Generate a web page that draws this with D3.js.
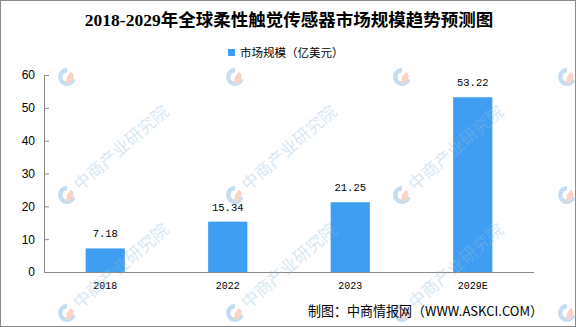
<!DOCTYPE html>
<html><head><meta charset="utf-8">
<script src="https://cdn.jsdelivr.net/npm/d3@7"></script>
<style>html,body{margin:0;padding:0;background:#fff;}svg{display:block;}</style>
</head><body>
<script>
const categories = ["2018", "2022", "2023", "2029E"];
const values = [7.18, 15.34, 21.25, 53.22];
const yTicks = [0, 10, 20, 30, 40, 50, 60];
const title = "2018-2029年全球柔性触觉传感器市场规模趋势预测图";
const seriesName = "市场规模（亿美元）";
const credit = "制图：中商情报网（WWW.ASKCI.COM）";
const watermarkText = "中商产业研究院";

const W = 576, H = 327;
const svg = d3.select("body").append("svg").attr("width", W).attr("height", H);
svg.append("rect").attr("x", 0.5).attr("y", 0.5).attr("width", W - 1).attr("height", H - 1)
  .attr("fill", "#fff").attr("stroke", "#8a8a8a").attr("stroke-width", 1);

const x = d3.scaleBand().domain(categories).range([44, 534]).paddingInner(0.68).paddingOuter(0.34);
const y = d3.scaleLinear().domain([0, 60]).range([272, 75]);

// watermark logos (behind)
const wmLogos = svg.append("g").attr("pointer-events", "none");
const cols = [67, 235, 402, 567];
const rows = [77, 195, 313];
rows.forEach(ry => cols.forEach(cx => {
  const g = wmLogos.append("g").attr("transform", `translate(${cx},${ry})`);
  g.append("path").attr("d", d3.arc().innerRadius(4.5).outerRadius(9)({startAngle: Math.PI * 0.6, endAngle: Math.PI * 2.0})).attr("fill", "#c4ddf0");
  g.append("path").attr("d", d3.arc().innerRadius(0).outerRadius(6.5)({startAngle: Math.PI * 0.2, endAngle: Math.PI * 1.05})).attr("fill", "#f9d3c5");
}));

// title
svg.append("text").attr("x", 289).attr("y", 26).attr("text-anchor", "middle")
  .style("font-family", "'Liberation Serif','Noto Sans CJK SC',serif").style("font-weight", "bold")
  .style("font-size", "17.5px").attr("fill", "#000").text(title);

// legend
svg.append("rect").attr("x", 228).attr("y", 49).attr("width", 7).attr("height", 7).attr("fill", "#409ef2");
svg.append("text").attr("x", 240).attr("y", 57).style("font-family", "'Noto Sans CJK SC',sans-serif")
  .style("font-size", "11.5px").attr("fill", "#000").text(seriesName);

// y axis
const yAxis = d3.axisLeft(y).tickValues(yTicks).tickSizeInner(-5).tickSizeOuter(0).tickPadding(9);
const gy = svg.append("g").attr("transform", "translate(44,0)").call(yAxis);
gy.select(".domain").attr("stroke", "#8a8a8a");
gy.selectAll(".tick line").attr("stroke", "#8a8a8a");
gy.selectAll(".tick text").style("font-family", "'Liberation Sans',Arial,sans-serif").style("font-size", "12px").attr("fill", "#000");

// x axis
const xAxis = d3.axisBottom(x).tickSize(0).tickPadding(10);
const gx = svg.append("g").attr("transform", "translate(0,272)").call(xAxis);
gx.select(".domain").attr("stroke", "#8a8a8a").attr("d", "M44,0.5H534");
gx.selectAll(".tick text").style("font-family", "'Liberation Mono',monospace").style("font-size", "10px").attr("fill", "#000");

// bars
const data = categories.map((c, i) => ({c, v: values[i]}));
svg.append("g").selectAll("rect").data(data).join("rect")
  .attr("x", d => x(d.c)).attr("width", x.bandwidth())
  .attr("y", d => y(d.v)).attr("height", d => y(0) - y(d.v))
  .attr("fill", "#409ef2");

svg.append("g").selectAll("text").data(data).join("text")
  .attr("x", d => x(d.c) + x.bandwidth() / 2).attr("y", d => y(d.v) - 11)
  .attr("text-anchor", "middle").style("font-family", "'Liberation Mono',monospace")
  .style("font-size", "10.5px").attr("fill", "#000").text(d => d.v.toFixed(2));

// credit
svg.append("text").attr("x", 308).attr("y", 316).attr("textLength", 235).attr("lengthAdjust", "spacingAndGlyphs")
  .style("font-family", "'Noto Sans CJK SC',sans-serif").style("font-size", "13.5px").attr("fill", "#000").text(credit);

// watermark texts (only those fully inside the frame)
const wm = svg.append("g").attr("pointer-events", "none");
[195, 313].forEach(ry => [67, 235, 402].forEach(cx => {
  wm.append("text").attr("transform", `translate(${cx + 10},${ry - 7}) rotate(-41)`)
    .style("font-family", "'Noto Sans CJK SC',sans-serif").style("font-size", "17px")
    .attr("fill", "#8fbde0").attr("opacity", 0.35).attr("dominant-baseline", "middle").text(watermarkText);
}));
</script>
</body></html>
